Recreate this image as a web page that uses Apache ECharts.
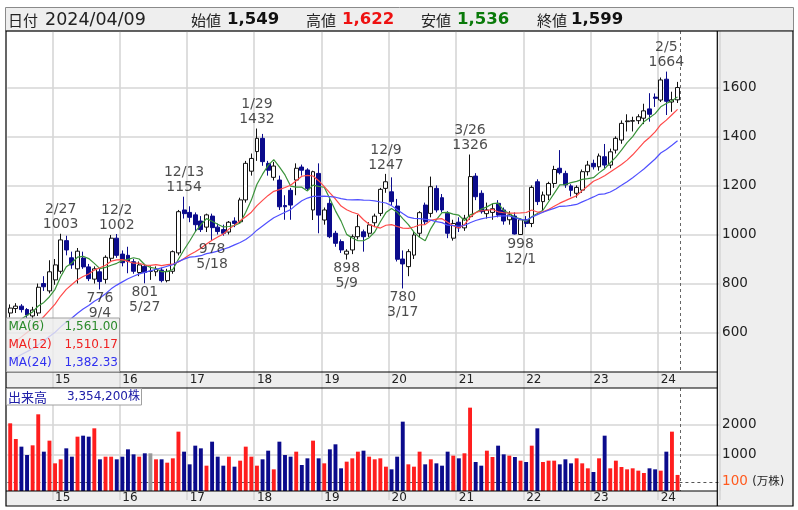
<!DOCTYPE html>
<html><head><meta charset="utf-8">
<script src="https://cdn.jsdelivr.net/npm/echarts@6/dist/echarts.min.js"></script>
<style>html,body{margin:0;padding:0;background:#fff;}#c{width:798px;height:510px;}</style>
</head><body><div id="c"></div>
<script>
// ---- data (monthly, May 2014 .. Apr 2024) ----
const startYear = 2014, startMonth = 5;
const opens = [680,698,708,694,668,680,800,770,815,850, 975,905,860,904,868,818,848,817,903,985,
 920,915,889,845,870,850,848,855,812,850, 925,1100,1090,1080,1055,1030,1075,1030,1020,1010,
 1055,1052,1141,1258,1338,1392,1290,1233,1222,1118, 1180,1222,1275,1263,1100,1249,1059,1127,1005,971,
 920,937,991,1011,1005,1048,1086,1188,1174,1116, 900,869,916,1005,1120,1086,1188,1150,1086,985,
 1050,1027,1073,1238,1168,1085,1090,1127,1100,1060, 1075,1000,1060,1045,1215,1134,1161,1208,1270,1249,
 1198,1168,1181,1256,1290,1276,1317,1283,1344,1385, 1460,1462,1464,1474,1512,1560,1548,1633,1540,1549];
const highs = [715,720,716,700,705,800,830,895,900,1003, 995,930,945,930,880,870,860,915,998,1002,
 935,950,900,890,880,870,870,865,860,935, 1100,1154,1115,1090,1075,1085,1085,1045,1040,1055,
 1070,1150,1300,1330,1432,1410,1300,1296,1240,1160, 1190,1290,1285,1270,1260,1290,1110,1150,1015,980,
 940,1000,1080,1020,1050,1085,1190,1247,1233,1145, 935,940,1010,1095,1130,1236,1200,1165,1095,1060,
 1070,1080,1326,1250,1180,1130,1125,1140,1110,1095, 1090,1065,1075,1200,1225,1175,1215,1280,1344,1260,
 1205,1200,1265,1300,1305,1330,1369,1350,1400,1465, 1490,1480,1490,1533,1576,1575,1640,1664,1582,1622];
const lows = [662,680,682,660,650,668,770,760,795,840, 915,860,800,860,810,800,776,800,890,905,
 870,842,840,830,801,815,830,805,805,840, 915,1065,1050,1010,1010,1010,978,1000,995,1000,
 1030,1045,1130,1240,1300,1280,1240,1220,1100,1060, 1060,1160,1240,1180,1059,1005,1040,985,950,925,
 898,920,980,930,990,1030,1075,1170,1120,890, 780,830,900,990,1040,1070,1090,1090,985,975,
 1010,1015,1060,1140,1085,1065,1060,1070,1040,1040, 1000,998,1030,1030,1120,1100,1140,1190,1245,1190,
 1155,1150,1170,1240,1265,1260,1270,1270,1330,1370, 1420,1420,1450,1450,1460,1520,1540,1487,1500,1536];
const closes = [700,708,694,672,692,785,787,848,876,978, 937,876,932,868,820,860,808,907,985,915,
 885,890,850,876,845,850,858,812,850,930, 1093,1085,1070,1040,1020,1080,1028,1012,1005,1050,
 1045,1141,1290,1310,1392,1297,1262,1279,1113,1113, 1120,1270,1262,1188,1256,1079,1100,991,964,937,
 932,991,1032,991,1039,1075,1184,1215,1134,899, 880,930,998,1089,1052,1195,1100,1100,1005,1045,
 1027,1066,1236,1154,1093,1100,1105,1079,1055,1080, 1002,1060,1045,1192,1134,1161,1208,1265,1252,1202,
 1180,1192,1256,1283,1276,1320,1283,1337,1392,1453, 1463,1464,1480,1504,1490,1555,1630,1543,1549,1599];
// volume in 万株
const volumes = [2056,1533,1278,1000,1322,2356,1111,1478,722,856, 1222,944,1611,1644,1611,1889,856,944,944,856,
 944,1189,1022,944,1056,1056,856,856,744,889, 1778,1111,689,1311,1222,644,1444,944,644,944,
 611,811,1278,944,644,856,1144,522,1444,1000, 944,1111,667,889,1478,889,722,1189,1356,556,
 778,889,1111,1144,944,856,889,611,522,944, 2111,689,611,1111,689,856,722,644,1111,978,
 889,1056,2578,767,644,1144,933,1311,1022,978, 933,811,767,1311,1889,767,811,811,689,856,
 722,889,722,556,433,889,1644,556,811,600, 522,556,478,400,556,522,478,1111,1778,335.42];
// closes before the visible range (Jun 2012 .. Apr 2014), estimated from where the MA lines start
const priorCloses = [390,380,385,395,400,410,430,450,455,470,480,470, 450,465,460,480,490,510,550,570,580,610,640];
const maPeriods = [6, 12, 24];
const maColors = ['#3a933a', '#ff4a4a', '#5050ff'];
const maTextColors = ['#2a8a2a', '#f02020', '#3030f0'];
const priceTicks = [600, 800, 1000, 1200, 1400, 1600];
const volumeTicks = [100, 1000, 2000];
const highMarks = [[9,'2/27',1003],[19,'12/2',1002],[31,'12/13',1154],[44,'1/29',1432],[67,'12/9',1247],[82,'3/26',1326],[117,'2/5',1664]];
const lowMarks = [[16,'9/4',776],[24,'5/27',801],[36,'5/18',978],[60,'5/9',898],[70,'3/17',780],[91,'12/1',998]];
const headerDate = '2024/04/09';

// ---- build ----
const EXTRA = 7;
const categories = [];
for (let k = 0; k < closes.length + EXTRA; k++) {
  const m0 = startMonth - 1 + k;
  categories.push((startYear + Math.floor(m0 / 12)) + '/' + String(m0 % 12 + 1).padStart(2, '0'));
}
const isJan = (idx, val) => String(val).endsWith('/01');
const allCloses = priorCloses.concat(closes);
const maSeries = maPeriods.map(p => closes.map((c, i) => {
  const end = priorCloses.length + i;
  let s = 0; for (let k = end - p + 1; k <= end; k++) s += allCloses[k];
  return +(s / p).toFixed(2);
}));
const candleData = closes.map((c, i) => [opens[i], c, lows[i], highs[i]]);
const volData = volumes.map((v, i) => [i, v, closes[i] > opens[i] ? 1 : (closes[i] < opens[i] ? -1 : 0)]);
const fmt0 = v => v.toLocaleString('en-US');
const fmt2 = v => v.toLocaleString('en-US', {minimumFractionDigits: 2, maximumFractionDigits: 2});
const last = closes.length - 1;

const LAT = '"DejaVu Sans"';
const CJK = '"Noto Sans CJK JP"';
const MIX = '"DejaVu Sans", "Noto Sans CJK JP"';
const GRID = '#d6d6d6';
const bw = 5.608;
const gLeft = 7.4, gWidth = bw * categories.length;

function txt(id, text, x, y, fill, size, family, weight, align) {
  return {type: 'text', id, z: 60, style: {text, x, y, fill, fontSize: size, fontFamily: family,
    fontWeight: weight || 'normal', align: align || 'left', verticalAlign: 'middle'}};
}
const graphics = [
  {type: 'rect', id: 'hdr', z: -10, shape: {x: 5.5, y: 7.5, width: 788, height: 23.5}, style: {fill: '#eeeeee', stroke: '#8a8a8a', lineWidth: 1}},
  {type: 'rect', id: 'band1', z: -10, shape: {x: 6, y: 372, width: 711.3, height: 16}, style: {fill: '#eeeeee'}},
  {type: 'rect', id: 'band2', z: -10, shape: {x: 6, y: 491, width: 711.3, height: 15}, style: {fill: '#eeeeee'}},
  {type: 'rect', id: 'rpanel', z: -10, shape: {x: 717.3, y: 31, width: 76, height: 475}, style: {fill: '#eeeeee'}},
  {type: 'rect', id: 'outer', z: 50, shape: {x: 6, y: 31, width: 787, height: 475}, style: {fill: null, stroke: '#000', lineWidth: 1.2}},
  {type: 'line', id: 'vsep', z: 50, shape: {x1: 717.3, y1: 31, x2: 717.3, y2: 506}, style: {stroke: '#000', lineWidth: 1.2}},
  {type: 'line', id: 'h1', z: 50, shape: {x1: 6, y1: 372, x2: 717.3, y2: 372}, style: {stroke: '#000', lineWidth: 1.2}},
  {type: 'line', id: 'h2', z: 50, shape: {x1: 6, y1: 388, x2: 717.3, y2: 388}, style: {stroke: '#000', lineWidth: 1.2}},
  {type: 'line', id: 'h3', z: 50, shape: {x1: 6, y1: 491, x2: 717.3, y2: 491}, style: {stroke: '#000', lineWidth: 1.2}},
  // header
  txt('t1', '日付', 8, 20, '#222', 15, CJK),
  txt('t2', headerDate, 45, 20, '#222', 17.5, LAT),
  txt('t3', '始値', 191, 20, '#222', 15, CJK),
  txt('t4', fmt0(opens[last]), 227, 20, '#111', 16.5, LAT, 'bold'),
  txt('t5', '高値', 306, 20, '#222', 15, CJK),
  txt('t6', fmt0(highs[last]), 342, 20, '#ee1111', 16.5, LAT, 'bold'),
  txt('t7', '安値', 421, 20, '#222', 15, CJK),
  txt('t8', fmt0(lows[last]), 457, 20, '#0a7a0a', 16.5, LAT, 'bold'),
  txt('t9', '終値', 537, 20, '#222', 15, CJK),
  txt('t10', fmt0(closes[last]), 571, 20, '#111', 16.5, LAT, 'bold'),
  // MA legend
  {type: 'rect', id: 'malg', z: 55, shape: {x: 6.5, y: 318, width: 113, height: 54}, style: {fill: 'rgba(236,236,236,0.8)', stroke: '#a0a0a0', lineWidth: 1}},
  // volume legend
  {type: 'rect', id: 'vlg', z: 55, shape: {x: 6.5, y: 388.5, width: 135, height: 16.5}, style: {fill: '#ffffff', stroke: '#a0a0a0', lineWidth: 1}},
  txt('v1', '出来高', 8, 397, '#2020a8', 13, CJK),
  txt('v2', fmt0(Math.round(volumes[last] * 10000)) + '株', 140, 397, '#2020a8', 12, MIX, 'normal', 'right')
];
const maRowsY = [327, 345, 362.5];
maPeriods.forEach((p, k) => {
  graphics.push(txt('ma' + k, 'MA(' + p + ')', 8.5, maRowsY[k], maTextColors[k], 12, LAT));
  graphics.push(txt('mv' + k, fmt2(maSeries[k][last]), 118, maRowsY[k], maTextColors[k], 12, LAT, 'normal', 'right'));
});

const markLabel = {show: true, color: '#1e1e1e', fontFamily: LAT, fontSize: 14, lineHeight: 15};
const option = {
  animation: false,
  backgroundColor: '#ffffff',
  grid: [
    {left: gLeft, top: 31, width: gWidth, height: 341},
    {left: gLeft, top: 388, width: gWidth, height: 103}
  ],
  xAxis: [0, 1].map(g => ({
    type: 'category', gridIndex: g, data: categories, boundaryGap: true,
    axisLine: {show: false},
    axisTick: {show: true, interval: isJan, length: g === 0 ? 16 : 15, lineStyle: {color: GRID, width: 1.6}},
    axisLabel: {show: true, interval: isJan, formatter: v => v.slice(2, 4), align: 'left', margin: g === 0 ? 1.5 : 1,
      color: '#222', fontFamily: LAT, fontSize: 12},
    splitLine: {show: true, interval: isJan, lineStyle: {color: GRID, width: 1.6}}
  })),
  yAxis: [
    {type: 'value', gridIndex: 0, position: 'right', min: 439.5, max: 1829.5,
      axisLine: {show: false}, axisTick: {show: false, customValues: priceTicks},
      axisLabel: {customValues: priceTicks, margin: 2.5, color: '#222', fontFamily: LAT, fontSize: 13.5,
        formatter: v => String(v)},
      splitLine: {show: true, lineStyle: {color: GRID, width: 1.6}}},
    {type: 'value', gridIndex: 1, position: 'right', min: -200, max: 3233,
      axisLine: {show: false}, axisTick: {show: false, customValues: volumeTicks},
      axisLabel: {customValues: volumeTicks, margin: 2.5, color: '#222', fontFamily: LAT, fontSize: 13.5,
        formatter: v => v === 100 ? '{o|100} {u|(万株)}' : String(v),
        rich: {o: {color: '#ff5a1e', fontFamily: LAT, fontSize: 13.5}, u: {color: '#222', fontFamily: MIX, fontSize: 11.5}}},
      splitLine: {show: false}}
  ],
  series: [
    {type: 'candlestick', xAxisIndex: 0, yAxisIndex: 0, z: 2, data: candleData, barWidth: 4.4,
      itemStyle: {color: '#ffffff', color0: '#0b0b8c', borderColor: '#111111', borderColor0: '#0b0b8c', borderWidth: 1}},
    ...maPeriods.map((p, k) => ({type: 'line', name: 'MA' + p, xAxisIndex: 0, yAxisIndex: 0, z: 3,
      data: maSeries[k], showSymbol: false, symbol: 'none', smooth: false,
      lineStyle: {color: maColors[k], width: 1.2}})),
    {type: 'scatter', xAxisIndex: 0, yAxisIndex: 0, z: 4, symbolSize: 1, itemStyle: {color: 'rgba(0,0,0,0)'},
      data: highMarks.map(m => ({value: [m[0], m[2]], label: {...markLabel, position: 'top', distance: 1, formatter: m[1] + '\n' + m[2]}}))},
    {type: 'scatter', xAxisIndex: 0, yAxisIndex: 0, z: 4, symbolSize: 1, itemStyle: {color: 'rgba(0,0,0,0)'},
      data: lowMarks.map(m => ({value: [m[0], m[2]], label: {...markLabel, position: 'bottom', distance: 1, formatter: m[2] + '\n' + m[1]}}))},
    {type: 'custom', xAxisIndex: 1, yAxisIndex: 1, z: 2, data: volData, encode: {x: 0, y: 1},
      renderItem: (params, api) => {
        const x = api.value(0), v = api.value(1), d = api.value(2);
        const top = api.coord([x, v]);
        const bot = api.coord([x, -200]);
        const w = 3.9;
        return {type: 'rect', shape: {x: top[0] - w / 2, y: top[1], width: w, height: bot[1] - top[1]},
          style: {fill: d > 0 ? '#ff1e1e' : (d < 0 ? '#0b0b8c' : '#999999')}};
      },
      markLine: {silent: true, symbol: 'none', z: 1, label: {show: false},
        data: [
          {yAxis: 1000, lineStyle: {color: GRID, width: 1.6, type: 'solid'}},
          {yAxis: 2000, lineStyle: {color: GRID, width: 1.6, type: 'solid'}},
          {yAxis: 100, lineStyle: {color: '#555', width: 1, type: [3, 3]}}
        ]}}
  ],
  graphic: graphics
};
const chart = echarts.init(document.getElementById('c'));
chart.setOption(option);
const xa = chart.convertToPixel({xAxisIndex: 0}, last);
const xb = chart.convertToPixel({xAxisIndex: 0}, last + 1);
const xd = Math.round((xa + xb) / 2) + 0.5;
chart.setOption({graphic: [
  {type: 'line', id: 'nowA', z: 40, shape: {x1: xd, y1: 31, x2: xd, y2: 372}, style: {stroke: '#666', lineWidth: 1, lineDash: [3, 3]}},
  {type: 'line', id: 'nowB', z: 40, shape: {x1: xd, y1: 388, x2: xd, y2: 491}, style: {stroke: '#666', lineWidth: 1, lineDash: [3, 3]}}
]});
</script>
</body></html>
